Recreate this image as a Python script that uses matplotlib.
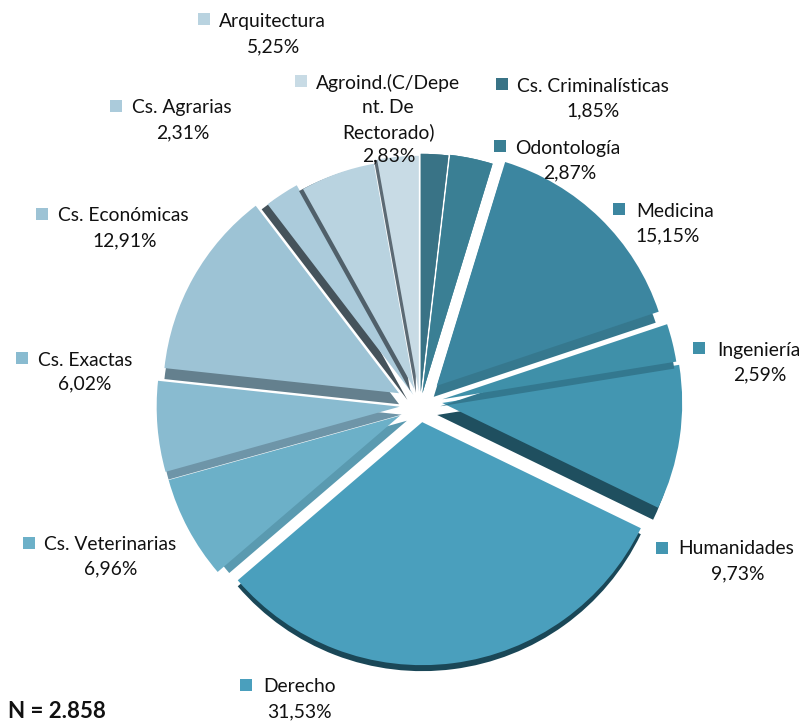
import matplotlib
matplotlib.use("Agg")
import matplotlib.pyplot as plt
from matplotlib.patches import Wedge

# ---- data ----
names = ["Cs. Criminalísticas", "Odontología", "Medicina", "Ingeniería", "Humanidades",
         "Derecho", "Cs. Veterinarias", "Cs. Exactas", "Cs. Económicas", "Cs. Agrarias",
         "Arquitectura", "Agroind.(C/Depe\nnt. De\nRectorado)"]
values = [1.85, 2.87, 15.15, 2.59, 9.73, 31.53, 6.96, 6.02, 12.91, 2.31, 5.25, 2.83]
total_label = "N = 2.858"

# ---- style ----
top_colors = ["#397386", "#3a7f94", "#3c86a0", "#3f90a9", "#4396b1", "#4a9fbd",
              "#6cb0c8", "#89bbd0", "#9dc3d5", "#abcbdb", "#b9d3e0", "#c8dbe5"]
wall_colors = ["#397386", "#3a7f94", "#36788e", "#33788f", "#1f4f5f", "#1a4757",
               "#5a9ab0", "#6e95a8", "#64808e", "#45535b", "#50606a", "#5c6a74"]
RADIUS = 240
explode_frac = [.055, .05, .10, .10, .085, .072, .095, .085, .10, .05, .07, .055]
radius_adj = [-2, 0, -6, -3, 0, 3, 0, 3, -4, 0, -11, -4]
nudge_up = [(0, 0), (0, 0), (0, 2), (-1, 0), (2, 5), (0, 0),
            (0, 0), (0, 0), (0, 0), (0, 0), (0, 0), (0, 0)]
wall_shift = [(0, 0), (0, 0), (-3, 11), (-2, 7), (-5, 12), (0, 6),
              (7, 5), (2, 8), (0, 11), (-6, 5), (-4, 2), (-3, 1)]
wall_inset = [0, 0, 0, 0, 0, 0, 6, 1, 0, 0, 0, 0]
draw_order = [5, 4, 3, 2, 1, 0, 6, 7, 8, 9, 10, 11]
# (square x, y), name x, name y, pct x, pct y  in image pixels
layout = [((502, 84), 517, 86, 593, 111),
          ((500, 146), 515, 148, 570, 173),
          ((619, 209), 636, 211, 668, 236),
          ((699, 348), 717, 350, 760, 375),
          ((662, 548), 678, 549, 738, 574),
          ((246, 685), 263, 687, 299, 712),
          ((29, 543), 44, 544, 111, 569),
          ((22, 358), 38, 360, 85, 384),
          ((42, 214), 58, 215, 125, 241),
          ((116, 106), 132, 107, 183, 133),
          ((204, 19), 219, 21, 274, 47),
          ((301, 81), 388, 83, 389, 156)]
W, H = 808, 725
FONT = "Lato"
FS = 13.9

fig = plt.figure(figsize=(W / 100, H / 100), dpi=100)
ax = fig.add_axes([0, 0, 1, 1])
wedges, _ = ax.pie(values, explode=[e * RADIUS for e in explode_frac], colors=top_colors,
                   startangle=90, counterclock=False, radius=RADIUS, center=(420, H - 405))
for z, i in enumerate(draw_order):
    w = wedges[i]
    w.set_zorder(2 * z + 3)
    w.set_linewidth(0)
    w.set_radius(w.r + radius_adj[i])
    w.set_center((w.center[0] + nudge_up[i][0], w.center[1] + nudge_up[i][1]))
    dx, dy = wall_shift[i]
    ax.add_patch(Wedge((w.center[0] + dx, w.center[1] - dy), w.r - wall_inset[i], w.theta1, w.theta2,
                       facecolor=wall_colors[i], linewidth=0, zorder=2 * z + 2))
ax.set_xlim(0, W)
ax.set_ylim(0, H)
ax.set_aspect("equal")
ax.axis("off")

for i, (name, val) in enumerate(zip(names, values)):
    (sx, sy), nx, ny, px, py = layout[i]
    ax.scatter([sx], [H - sy], marker="s", s=75, color=top_colors[i], linewidths=0, zorder=50)
    pct = f"{val:.2f}".replace(".", ",") + "%"
    if "\n" in name:
        for k, line in enumerate(name.split("\n")):
            ax.text(nx, H - (ny + 24.5 * k), line, ha="center", va="center",
                    family=FONT, fontsize=FS, color="#111111", zorder=60)
    else:
        ax.text(nx, H - ny, name, ha="left", va="center", family=FONT, fontsize=FS,
                color="#111111", zorder=60)
    ax.text(px, H - py, pct, ha="center", va="center", family=FONT, fontsize=FS,
            color="#111111", zorder=60)
ax.text(8, H - 712, total_label, ha="left", va="center", family=FONT, fontsize=16,
        fontweight="bold", color="#111111", zorder=60)
fig.savefig("out.png", dpi=100)
